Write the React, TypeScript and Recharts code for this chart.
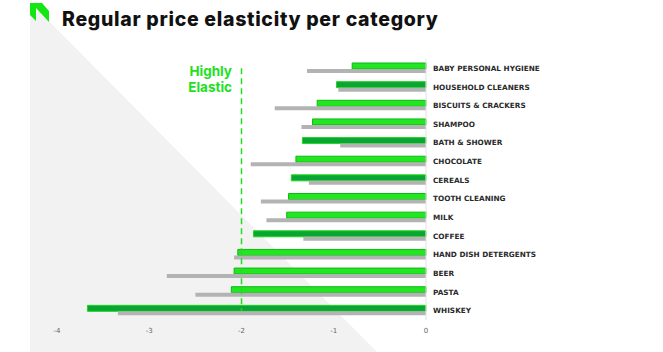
import { BarChart, Bar, XAxis, YAxis, Cell, ReferenceLine } from 'recharts';

const categories = [
    'BABY PERSONAL HYGIENE',
    'HOUSEHOLD CLEANERS',
    'BISCUITS & CRACKERS',
    'SHAMPOO',
    'BATH & SHOWER',
    'CHOCOLATE',
    'CEREALS',
    'TOOTH CLEANING',
    'MILK',
    'COFFEE',
    'HAND DISH DETERGENTS',
    'BEER',
    'PASTA',
    'WHISKEY',
];
const currentElasticity = [-0.8, -0.97, -1.18, -1.23, -1.34, -1.41, -1.46, -1.49, -1.51, -1.87, -2.04, -2.08, -2.11, -3.67];
const previousElasticity = [-1.29, -0.95, -1.64, -1.35, -0.93, -1.9, -1.27, -1.79, -1.73, -1.33, -2.08, -2.81, -2.5, -3.34];
const xTicks = [-4, -3, -2, -1, 0];
const threshold = -2;

const data = categories.map((name, i) => ({
    name,
    current: currentElasticity[i],
    previous: previousElasticity[i],
}));

const BRIGHT = { fill: '#22e622', stroke: '#0fb80f' };
const DARK = { fill: '#0aa634', stroke: '#1fd61f' };

export default function App() {
    return (
        <div
            style={{
                position: 'fixed',
                left: 0,
                top: 0,
                width: 663,
                height: 352,
                background: '#fff',
                overflow: 'hidden',
                fontFamily: 'Inter, sans-serif',
            }}
        >
            {/* background shape + logo */}
            <svg width={663} height={352} style={{ position: 'absolute', left: 0, top: 0 }}>
                <polygon points="30,2 30,352 377,352" fill="#f2f2f2" />
                <polygon points="30,3 36,3 36,21 30,15" fill="#14e614" />
                <polygon points="36,3 42,3 49,11 49,22 36,8" fill="#14e614" />
            </svg>

            <div
                style={{
                    position: 'absolute',
                    left: 62,
                    top: 7,
                    fontSize: 19.5,
                    fontWeight: 800,
                    letterSpacing: 0.7,
                    color: '#111',
                    whiteSpace: 'nowrap',
                }}
            >
                Regular price elasticity per category
            </div>

            <div
                style={{
                    position: 'absolute',
                    right: 663 - 232,
                    top: 63,
                    fontSize: 13.5,
                    lineHeight: '16px',
                    fontWeight: 700,
                    color: '#1ee01e',
                    textAlign: 'right',
                }}
            >
                Highly
                <br />
                Elastic
            </div>

            <div style={{ position: 'absolute', left: 0, top: 0 }}>
                <BarChart
                    width={663}
                    height={352}
                    data={data}
                    layout="vertical"
                    barGap={0}
                    margin={{ top: 59, right: 0, bottom: 12, left: 57 }}
                >
                    <XAxis
                        type="number"
                        domain={[-4, 0]}
                        ticks={xTicks}
                        axisLine={false}
                        tickLine={false}
                        height={20}
                        tick={{ fill: '#666', fontSize: 7, fontFamily: 'DejaVu Sans' }}
                    />
                    <YAxis
                        type="category"
                        dataKey="name"
                        orientation="right"
                        width={237}
                        axisLine={{ stroke: '#e2e2e2' }}
                        tickLine={false}
                        tickMargin={1}
                        tick={{ fill: '#2a2a2a', fontSize: 7.3, fontWeight: 700, fontFamily: 'DejaVu Sans' }}
                        interval={0}
                    />
                    <Bar dataKey="current" barSize={6} isAnimationActive={false}>
                        {data.map((d, i) => {
                            const c = d.current < d.previous ? DARK : BRIGHT;
                            return <Cell key={`c-${i}`} fill={c.fill} stroke={c.stroke} strokeWidth={1} />;
                        })}
                    </Bar>
                    <Bar dataKey="previous" barSize={4} fill="#b3b3b3" isAnimationActive={false} />
                    <ReferenceLine
                        segment={[
                            { x: threshold, y: categories[0] },
                            { x: threshold, y: categories[categories.length - 1] },
                        ]}
                        stroke="#22dd22"
                        strokeWidth={1.5}
                        strokeDasharray="6 4"
                    />
                </BarChart>
            </div>
        </div>
    );
}
